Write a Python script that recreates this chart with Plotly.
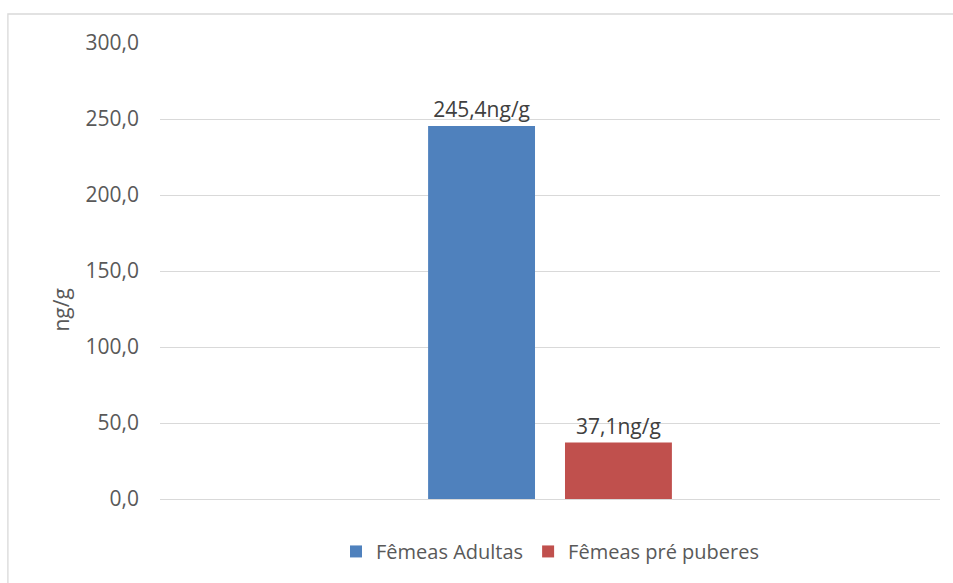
import plotly.graph_objects as go

# Data
group = [""]
series_names = ["Fêmeas Adultas", "Fêmeas pré puberes"]
series_values = [[245.4], [37.1]]
series_colors = ["#4f81bd", "#c0504d"]
y_ticks = [0, 50, 100, 150, 200, 250, 300]
y_title = "ng/g"

FONT = "Open Sans, sans-serif"
TEXT = "#595959"
FS = 21

fig = go.Figure()
for name, vals, col in zip(series_names, series_values, series_colors):
    fig.add_trace(go.Bar(
        x=group, y=vals, name=name,
        marker=dict(color=col, line=dict(width=0)),
        texttemplate="%{y:.1f}ng/g",
        textposition="outside",
        textfont=dict(family=FONT, size=FS, color="#404040"),
        cliponaxis=False,
    ))

fig.update_layout(
    width=953, height=583,
    margin=dict(l=160, r=13, t=43, b=84),
    paper_bgcolor="white", plot_bgcolor="white",
    separators=",.",
    barmode="group", bargap=0.649, bargroupgap=0.219,
    font=dict(family=FONT, color=TEXT, size=FS),
    showlegend=True,
    legend=dict(orientation="h", x=0.5, xanchor="center", y=-0.115, yanchor="middle",
                font=dict(family=FONT, size=FS - 1, color=TEXT),
                itemwidth=30, traceorder="normal"),
    xaxis=dict(showticklabels=False, showgrid=False, zeroline=False, showline=False),
    yaxis=dict(range=[0, 300], tickvals=y_ticks, tickformat=".1f",
               showgrid=True, gridcolor="#d9d9d9", gridwidth=1.3,
               zeroline=True, zerolinecolor="#d9d9d9", zerolinewidth=1.3,
               showline=False, ticks="", ticklabelstandoff=20,
               tickfont=dict(family=FONT, size=FS, color=TEXT)),
    annotations=[dict(text=y_title, xref="paper", yref="paper",
                      x=-0.147, y=0.414, textangle=-90, showarrow=False,
                      font=dict(family=FONT, size=FS, color=TEXT))],
    shapes=[dict(type="rect", xref="paper", yref="paper",
                 x0=-0.195, x1=1.03, y0=-0.25, y1=1.0636,
                 line=dict(color="#d9d9d9", width=1.3), fillcolor="rgba(0,0,0,0)",
                 layer="below")],
)

fig.write_html("out.html")
